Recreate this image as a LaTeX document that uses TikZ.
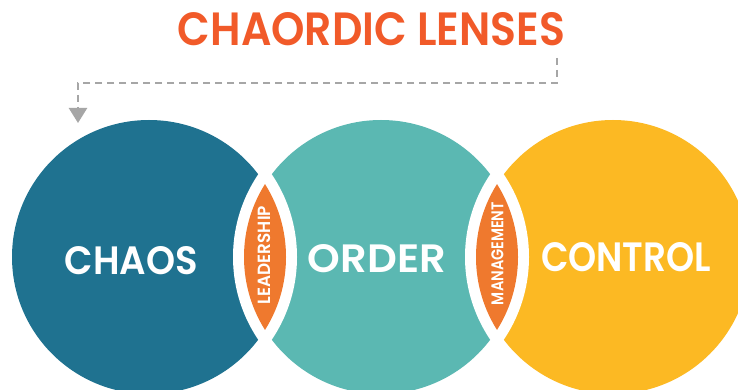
\documentclass[tikz,border=0pt]{standalone}
\usepackage{fontspec}
\setmainfont{Poppins}[BoldFont={Poppins SemiBold}]
\usetikzlibrary{arrows.meta}
\definecolor{chaosc}{RGB}{31,114,144}
\definecolor{orderc}{RGB}{91,184,178}
\definecolor{controlc}{RGB}{252,185,35}
\definecolor{lensc}{RGB}{239,121,46}
\definecolor{titlec}{RGB}{241,90,41}
\definecolor{dashc}{RGB}{166,166,166}
\begin{document}
\begin{tikzpicture}[x=1pt,y=-1pt,
  bigword/.style={inner sep=0pt, text=white, font=\bfseries},
  lenslabel/.style={inner sep=0pt, text=white, font=\bfseries, rotate=90},
  titlestyle/.style={inner sep=0pt, text=titlec, font=\bfseries},
  connector/.style={dashc, line width=2.5pt, dash pattern=on 7pt off 5pt,
    -{Triangle[width=18pt,length=15pt]}}]
\useasboundingbox (0,0) rectangle (738,390);
\clip (0,0) rectangle (738,390);
\fill[white] (0,0) rectangle (738,390);
\coordinate (c1) at (149,257);
\coordinate (c2) at (381,257);
\coordinate (c3) at (613,257);
\fill[chaosc] (c1) circle[radius=137];
\fill[orderc] (c2) circle[radius=137];
\fill[controlc] (c3) circle[radius=137];
% white halos round the lenses
\begin{scope}\clip (c1) circle[radius=148]; \fill[white] (c2) circle[radius=148];\end{scope}
\begin{scope}\clip (c2) circle[radius=148]; \fill[white] (c3) circle[radius=148];\end{scope}
% orange lenses
\begin{scope}\clip (c1) circle[radius=137]; \fill[lensc] (c2) circle[radius=137];\end{scope}
\begin{scope}\clip (c2) circle[radius=137]; \fill[lensc] (c3) circle[radius=137];\end{scope}
% texts
\node[titlestyle] (title) at (371.5,29.5) {\resizebox{387pt}{33pt}{CHAORDIC LENSES}};
\node[bigword] (chaos) at (131.5,261) {\resizebox{133pt}{28pt}{CHAOS}};
\node[bigword] (order) at (377,259) {\resizebox{138pt}{28pt}{ORDER}};
\node[bigword] (control) at (626,257.5) {\resizebox{170pt}{29pt}{CONTROL}};
\node[lenslabel] (leadership) at (264.5,255) {\resizebox{98pt}{12.5pt}{LEADERSHIP}};
\node[lenslabel] (management) at (497.5,253.5) {\resizebox{103pt}{12pt}{MANAGEMENT}};
% dashed connector
\coordinate (ds) at (557,58);
\coordinate (de) at (78,123);
\draw[connector] (ds) -- ++(0,25) -| (de);
\end{tikzpicture}
\end{document}
